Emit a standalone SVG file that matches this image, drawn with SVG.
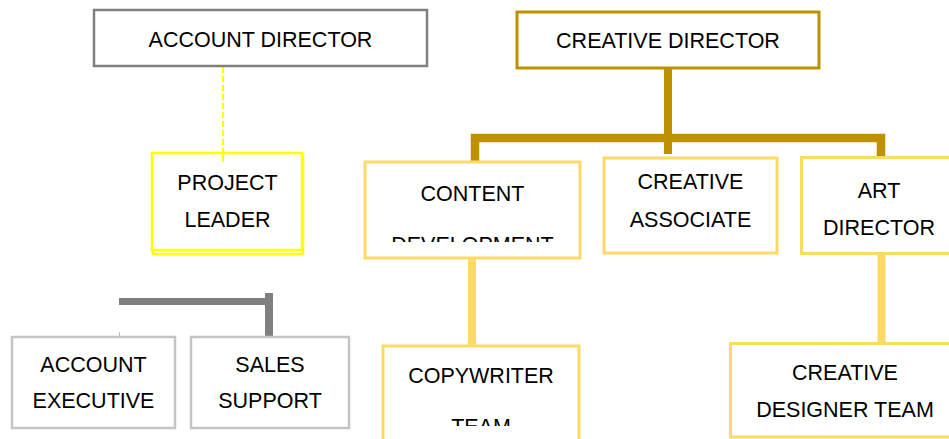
<svg xmlns="http://www.w3.org/2000/svg" width="949" height="439" viewBox="0 0 949 439">
<style>
text{font-family:"Liberation Sans",Arial,sans-serif;font-size:21.5px;fill:#000;text-anchor:middle}
.box{fill:#fff}
.gray{stroke:#7F7F7F;stroke-width:2.5}
.gold{stroke:#BF9000;stroke-width:3}
.yel{stroke:#FFD966;stroke-width:3}
.lt{stroke:#C4C4C4;stroke-width:2.5}
.pl{stroke:#FFFF00;stroke-width:2.5;fill:none}
</style>
<defs>
<clipPath id="c1"><rect x="365" y="160" width="215" height="82"/></clipPath>
<clipPath id="c2"><rect x="383" y="345" width="196" height="81"/></clipPath>
</defs>
<g id="connectors" fill="none">
<line x1="223" y1="67" x2="223" y2="162" stroke="#FFFF00" stroke-width="2" stroke-dasharray="6,3"/>
<line x1="668" y1="68" x2="668" y2="154" stroke="#BF9000" stroke-width="8"/>
<polyline points="475,162 475,138 881,138 881,160" stroke="#BF9000" stroke-width="8.5"/>
<line x1="472" y1="258" x2="472" y2="346" stroke="#FFD966" stroke-width="8"/>
<line x1="881.5" y1="254" x2="881.5" y2="344" stroke="#FFD966" stroke-width="8"/>
<line x1="119" y1="301.5" x2="273" y2="301.5" stroke="#808080" stroke-width="7"/>
<line x1="269" y1="293" x2="269" y2="336" stroke="#808080" stroke-width="8"/>
<line x1="119.5" y1="332" x2="119.5" y2="340" stroke="#BFBFBF" stroke-width="1"/>
</g>
<g id="account-director">
<rect class="box gray" x="94" y="10" width="333" height="56"/>
<text x="260.5" y="47">ACCOUNT DIRECTOR</text>
</g>
<g id="creative-director">
<rect class="box gold" x="517" y="12" width="302" height="56"/>
<text x="668" y="48">CREATIVE DIRECTOR</text>
</g>
<g id="project-leader">
<rect class="pl" x="153" y="155" width="150" height="99"/>
<rect class="pl" x="152" y="153" width="150" height="97" fill="#fff" style="fill:#fff"/>
<line x1="223" y1="153" x2="223" y2="162" stroke="#FFFF00" stroke-width="2"/>
<text x="227.5" y="190">PROJECT</text>
<text x="227.5" y="227">LEADER</text>
</g>
<g id="content-development">
<rect class="box yel" x="365" y="162" width="215" height="96"/>
<text x="472.5" y="201">CONTENT</text>
<text x="472.5" y="252" clip-path="url(#c1)">DEVELOPMENT</text>
</g>
<g id="creative-associate">
<rect class="box yel" x="604" y="158" width="173" height="95"/>
<text x="690.5" y="188.5">CREATIVE</text>
<text x="690.5" y="226.5">ASSOCIATE</text>
</g>
<g id="art-director">
<rect class="box yel" x="801.5" y="157.5" width="170" height="96"/>
<text x="879" y="198">ART</text>
<text x="879" y="235">DIRECTOR</text>
</g>
<g id="copywriter-team">
<rect class="box yel" x="383" y="346" width="196" height="110"/>
<text x="481" y="383">COPYWRITER</text>
<text x="481" y="434" clip-path="url(#c2)">TEAM</text>
</g>
<g id="creative-designer-team">
<rect class="box yel" x="730.5" y="343.5" width="240" height="93.5"/>
<text x="845" y="379.5">CREATIVE</text>
<text x="845" y="417">DESIGNER TEAM</text>
</g>
<g id="account-executive">
<rect class="box lt" x="12" y="337" width="163" height="91"/>
<text x="93.5" y="372">ACCOUNT</text>
<text x="93.5" y="408">EXECUTIVE</text>
</g>
<g id="sales-support">
<rect class="box lt" x="191" y="337" width="158" height="91"/>
<text x="270" y="372">SALES</text>
<text x="270" y="408">SUPPORT</text>
</g>
</svg>
